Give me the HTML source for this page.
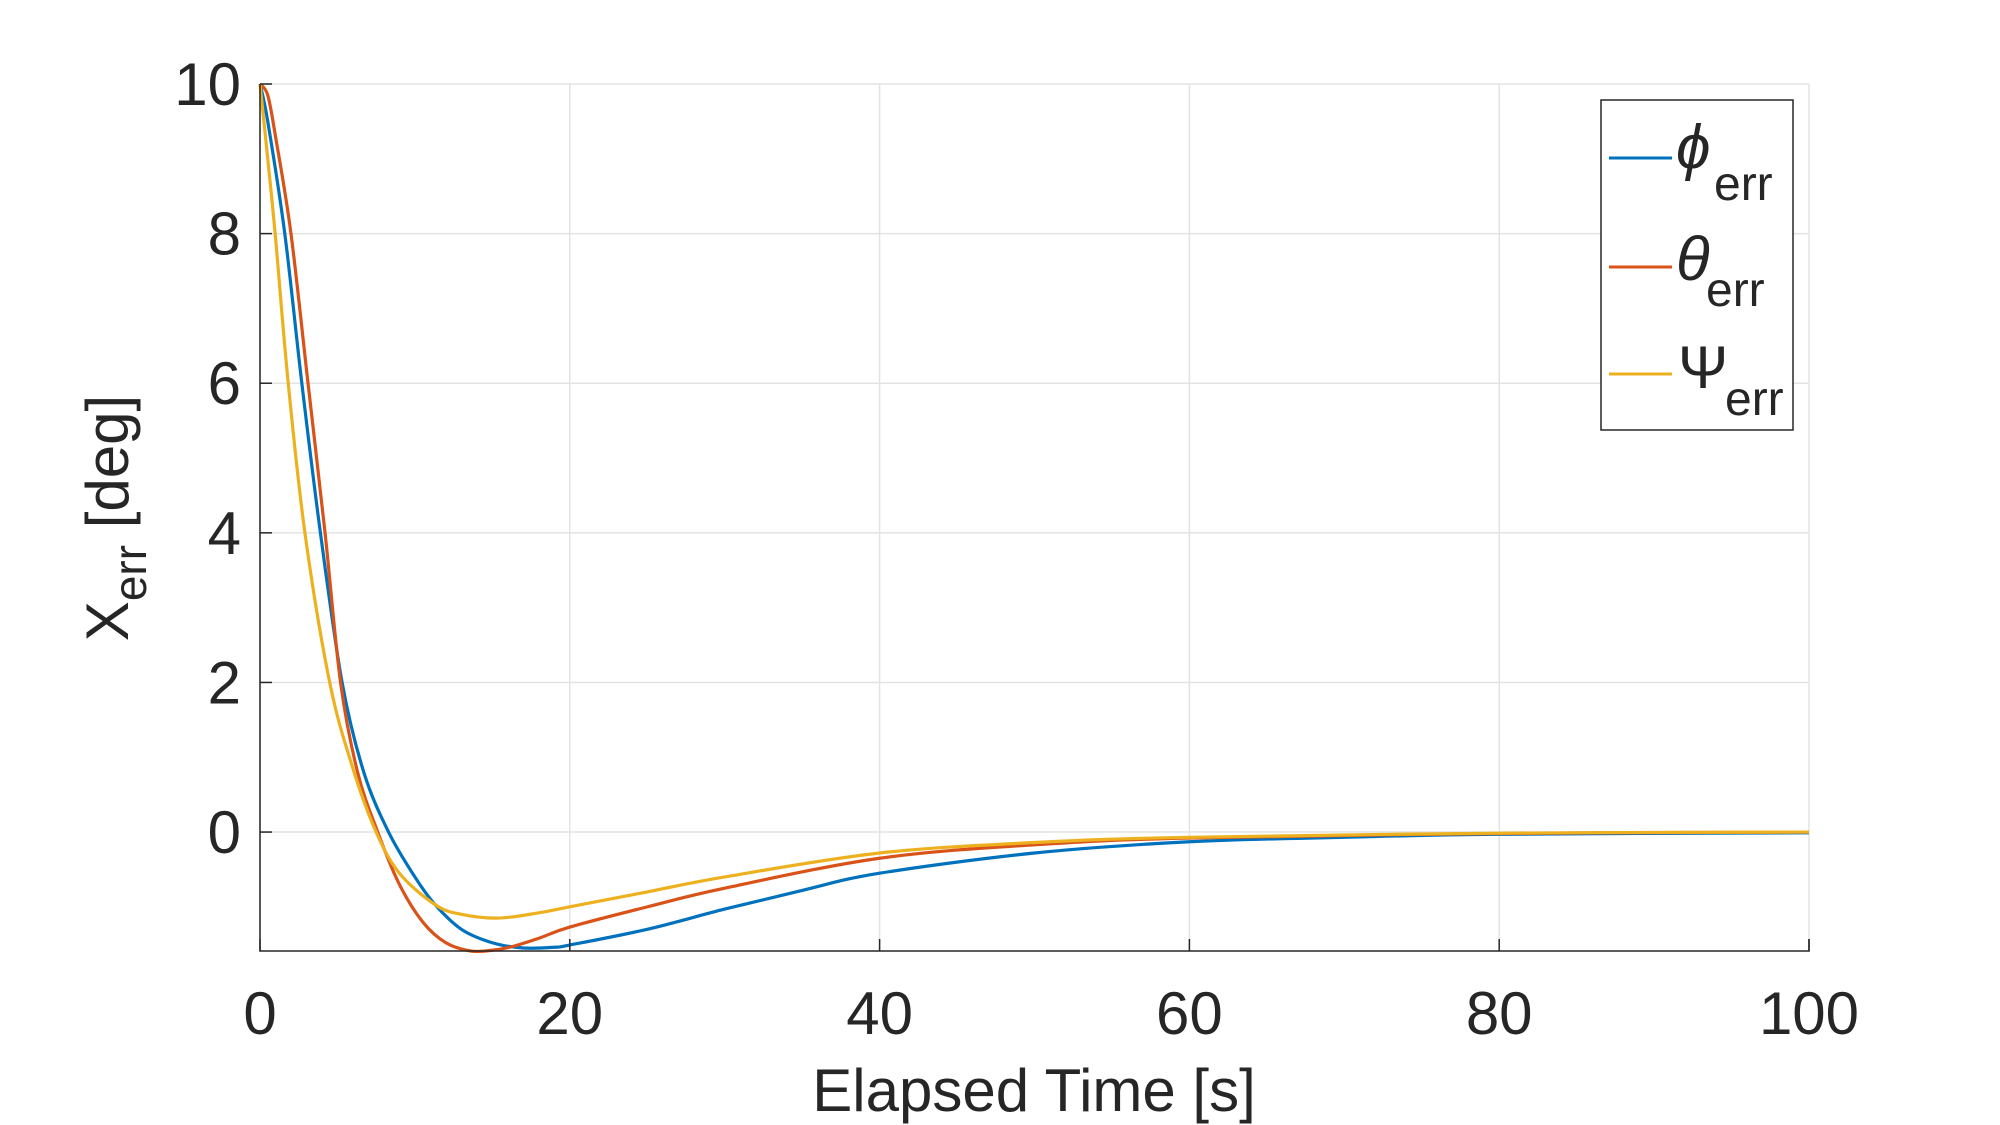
<!DOCTYPE html>
<html><head><meta charset="utf-8"><style>
html,body{margin:0;padding:0;background:#fff;}
svg{display:block;}
text{font-family:"Liberation Sans",sans-serif;fill:#262626;}
</style></head><body>
<svg id="chart" width="2000" height="1125" viewBox="0 0 2000 1125">
<g id="grid"></g>
<g id="series"></g>
<g id="axes"></g>
<text x="1034" y="1111" text-anchor="middle" font-size="60">Elapsed Time [s]</text>
<text transform="translate(128,518) rotate(-90)" text-anchor="middle" font-size="60">X<tspan font-size="46" dy="18">err</tspan><tspan dy="-18"> [deg]</tspan></text>
<g>
<rect x="1601" y="100" width="192" height="330" fill="#fff" stroke="#262626" stroke-width="1.5"/>
<g>
<line x1="1609" y1="158" x2="1672" y2="158" stroke="#0072BD" stroke-width="3"/>
<text x="1676" y="168" font-family="Liberation Serif,serif" font-style="italic" font-size="62" fill="#000">ϕ</text>
<text x="1714" y="200" font-size="48" fill="#000">err</text>
</g>
<g>
<line x1="1609" y1="267" x2="1672" y2="267" stroke="#D95319" stroke-width="3"/>
<text x="1676" y="280" font-family="Liberation Serif,serif" font-style="italic" font-size="62" fill="#000">θ</text>
<text x="1706" y="306" font-size="48" fill="#000">err</text>
</g>
<g>
<line x1="1609" y1="374" x2="1672" y2="374" stroke="#EDB120" stroke-width="3"/>
<text x="1678" y="388" font-family="Liberation Serif,serif" font-size="60" fill="#000">Ψ</text>
<text x="1725" y="415" font-size="48" fill="#000">err</text>
</g>
</g>
</svg>
<script>
const xTicks=[0,20,40,60,80,100];
const yTicks=[0,2,4,6,8,10];
const tPhi=[0,0.5,1.6,2.7,3.9,5.3,6.7,8.3,10,11.3,13,15,17,19,20,25,30,35,40,50,60,70,80,100];
const vPhi=[10,9.5,8,6,4,2,0.8,0,-0.6,-0.97,-1.3,-1.48,-1.55,-1.54,-1.51,-1.3,-1.03,-0.78,-0.55,-0.28,-0.13,-0.07,-0.03,-0.01];
const tTheta=[0,0.5,1,2,3.1,4.2,5.2,6.3,7.6,9,10.5,12,13.6,15,16.3,18,20,25,30,40,50,60,80,100];
const vTheta=[10,9.85,9.3,8,6,4,2,0.8,0,-0.7,-1.2,-1.48,-1.59,-1.58,-1.53,-1.42,-1.27,-1.0,-0.75,-0.35,-0.17,-0.08,-0.02,0];
const tPsi=[0,0.5,1,1.8,2.9,4.5,6,7.5,9,11.3,13,15.4,18,20,25,30,40,50,60,80,100];
const vPsi=[10,9.0,7.95,6.05,4.0,2.0,0.85,0,-0.55,-0.97,-1.1,-1.15,-1.08,-1.0,-0.8,-0.6,-0.28,-0.14,-0.07,-0.015,0];
const L=260,R=1809,T=84,B=951,YMIN=-1.59,YMAX=10;
const xs=v=>L+(v-0)/(100-0)*(R-L);
const ys=v=>B-(v-YMIN)/(YMAX-YMIN)*(B-T);
const NS="http://www.w3.org/2000/svg";
function mk(tag,attrs,parent){const e=document.createElementNS(NS,tag);for(const k in attrs)e.setAttribute(k,attrs[k]);parent.appendChild(e);return e;}
const grid=document.getElementById('grid'),axes=document.getElementById('axes'),ser=document.getElementById('series');
xTicks.forEach(v=>{
 const g=mk('line',{x1:xs(v),x2:xs(v),y1:T,y2:B,stroke:'#e3e3e3','stroke-width':1.5},grid);
 
 
 const tk=mk('line',{x1:xs(v),x2:xs(v),y1:B,y2:B-12,stroke:'#262626','stroke-width':1.5},axes);
 
 
 const t=mk('text',{x:xs(v),y:1034,'text-anchor':'middle','font-size':60},axes);
 t.textContent=v;
 
 
});
yTicks.forEach(v=>{
 const g=mk('line',{x1:L,x2:R,y1:ys(v),y2:ys(v),stroke:'#e3e3e3','stroke-width':1.5},grid);
 
 
 const tk=mk('line',{x1:L,x2:L+12,y1:ys(v),y2:ys(v),stroke:'#262626','stroke-width':1.5},axes);
 
 
 const t=mk('text',{x:241,y:ys(v)+21,'text-anchor':'end','font-size':60},axes);
 t.textContent=v;
 
 
});
const ax=mk('path',{d:`M${L},${T} L${L},${B} L${R},${B} L${R},${B-12}`,fill:'none',stroke:'#262626','stroke-width':1.5},axes);


function smooth(ts,vs){
 const p=ts.map((t,i)=>[xs(t),ys(vs[i])]);
 let d=`M${p[0][0]},${p[0][1]}`;
 for(let i=0;i<p.length-1;i++){
  const p0=p[i-1]||p[i],p1=p[i],p2=p[i+1],p3=p[i+2]||p2;
  const c1=[p1[0]+(p2[0]-p0[0])/6,p1[1]+(p2[1]-p0[1])/6];
  const c2=[p2[0]-(p3[0]-p1[0])/6,p2[1]-(p3[1]-p1[1])/6];
  d+=` C${c1[0]},${c1[1]} ${c2[0]},${c2[1]} ${p2[0]},${p2[1]}`;
 }
 return d;
}
const lp=mk('path',{d:smooth(tPhi,vPhi),fill:'none',stroke:'#0072BD','stroke-width':3.2},ser);


const lt=mk('path',{d:smooth(tTheta,vTheta),fill:'none',stroke:'#D95319','stroke-width':3.2},ser);


const ls=mk('path',{d:smooth(tPsi,vPsi),fill:'none',stroke:'#EDB120','stroke-width':3.2},ser);


</script>
</body></html>
